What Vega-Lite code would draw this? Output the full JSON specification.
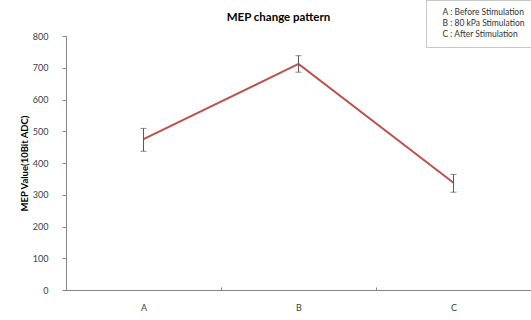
{
  "$schema": "https://vega.github.io/schema/vega-lite/v6.json",
  "autosize": "none",
  "width": 465,
  "height": 254,
  "padding": {"left": 66, "top": 36, "right": 0, "bottom": 30},
  "background": "white",
  "config": {
    "font": "Lato",
    "view": {"stroke": null},
    "axis": {"labelFont": "Lato", "titleFont": "Lato", "labelColor": "#404040", "titleColor": "#000000", "domainColor": "#868686", "tickColor": "#868686", "grid": false, "labelFontSize": 9}
  },
  "title": {"text": "MEP change pattern", "fontSize": 11.5, "fontWeight": "bold", "font": "Lato", "color": "#000000", "anchor": "middle", "offset": 14, "dx": -20, "dy": 38},
  "data": {
    "values": [
      {"stage": "A", "mep": 475, "low": 437, "high": 509, "label": "A : Before Stimulation"},
      {"stage": "B", "mep": 712, "low": 686, "high": 738, "label": "B : 80 kPa Stimulation"},
      {"stage": "C", "mep": 338, "low": 308, "high": 364, "label": "C : After Stimulation"}
    ]
  },
  "encoding": {
    "x": {"field": "stage", "type": "nominal", "scale": {"type": "band", "paddingInner": 0, "paddingOuter": 0},
      "axis": {"title": null, "labelAngle": 0, "tickBand": "extent", "tickSize": -3, "labelPadding": 16, "domainColor": "#868686"}},
    "y": {"field": "mep", "type": "quantitative", "scale": {"domain": [0, 800], "nice": false},
      "axis": {"title": "MEP Value(10Bit ADC)", "tickCount": 16, "tickMinStep": 100, "labelOverlap": false, "tickSize": 4, "labelPadding": 14, "titlePadding": 3, "titleFontSize": 9.5, "titleFontWeight": "bold"}}
  },
  "layer": [
    {
      "mark": {"type": "line", "color": "#C0504D", "strokeWidth": 2}
    },
    {
      "mark": {"type": "rule", "color": "#595959", "strokeWidth": 1},
      "encoding": {
        "y": {"field": "low", "type": "quantitative"},
        "y2": {"field": "high"},
        "color": {"field": "label", "type": "nominal", "scale": {"range": ["#595959", "#595959", "#595959"]},
          "legend": {"title": null, "orient": "none", "legendX": 360, "legendY": -36, "symbolSize": 0, "symbolOpacity": 0, "symbolStrokeWidth": 0, "labelFontSize": 8.5, "labelFont": "Lato", "labelColor": "#333333", "fillColor": "white", "strokeColor": "#c8c8c8", "padding": 8, "rowPadding": 2, "labelOffset": 0}}
      }
    },
    {
      "mark": {"type": "tick", "color": "#595959", "size": 6, "thickness": 1},
      "encoding": {"y": {"field": "low", "type": "quantitative"}}
    },
    {
      "mark": {"type": "tick", "color": "#595959", "size": 6, "thickness": 1},
      "encoding": {"y": {"field": "high", "type": "quantitative"}}
    }
  ]
}
